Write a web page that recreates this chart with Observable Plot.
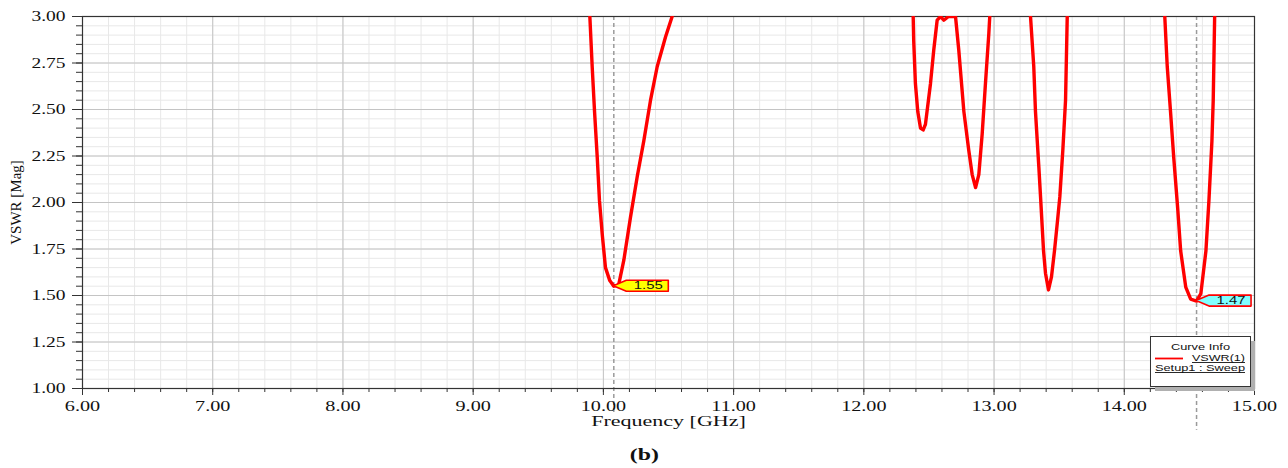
<!DOCTYPE html>
<html>
<head>
<meta charset="utf-8">
<script src="https://cdn.jsdelivr.net/npm/d3@7"></script>
<script src="https://cdn.jsdelivr.net/npm/@observablehq/plot@0.6"></script>
<style>
  html, body { margin: 0; padding: 0; background: #fff; }
  #wrap { position: relative; width: 1288px; height: 468px; }
  #caption { position: absolute; left: 0; top: 440px; width: 1288px; height: 30px; line-height: 30px;
    text-align: center; font-family: "Liberation Serif", serif; font-weight: bold; font-size: 17px; color: #111; }
  #caption span { display: inline-block; transform: scaleX(1.4); }
  #legend { position: absolute; left: 1148px; top: 334px; }
</style>
</head>
<body>
<div id="wrap">
  <div id="chart"></div>
  <svg id="legend" width="112" height="60"></svg>
  <div id="caption"><span>(b)</span></div>
</div>
<script>
// ---- data ----
const seg1F = [9.896, 9.914, 9.932, 9.953, 9.970, 9.991, 10.016, 10.049, 10.080, 10.118, 10.157, 10.208, 10.260, 10.310, 10.362, 10.413, 10.477, 10.528];
const seg1V = [3.00, 2.73, 2.49, 2.24, 2.01, 1.83, 1.65, 1.58, 1.55, 1.56, 1.69, 1.92, 2.14, 2.33, 2.55, 2.73, 2.89, 3.00];

const seg2F = [12.379, 12.383, 12.396, 12.414, 12.435, 12.456, 12.473, 12.512, 12.537, 12.563, 12.589, 12.614, 12.650, 12.704, 12.729, 12.768, 12.806, 12.832, 12.858, 12.883, 12.909, 12.934, 12.960, 12.967];
const seg2V = [3.00, 2.87, 2.64, 2.49, 2.40, 2.39, 2.42, 2.64, 2.82, 2.98, 3.00, 2.98, 3.00, 3.00, 2.82, 2.49, 2.28, 2.15, 2.08, 2.15, 2.37, 2.64, 2.91, 3.00];

const seg3F = [13.280, 13.305, 13.318, 13.344, 13.357, 13.380, 13.395, 13.418, 13.441, 13.464, 13.487, 13.505, 13.528, 13.549, 13.562];
const seg3V = [3.00, 2.73, 2.49, 2.19, 2.03, 1.74, 1.62, 1.53, 1.60, 1.74, 1.90, 2.03, 2.28, 2.55, 3.00];

const seg4F = [14.311, 14.330, 14.355, 14.380, 14.410, 14.433, 14.472, 14.510, 14.555, 14.588, 14.627, 14.650, 14.673, 14.683, 14.694];
const seg4V = [3.00, 2.73, 2.49, 2.24, 1.97, 1.74, 1.545, 1.48, 1.47, 1.51, 1.74, 2.01, 2.33, 2.55, 3.00];

const markerF = [10.08, 14.555];
const markerV = [1.55, 1.47];
const markerLabels = ["1.55", "1.47"];
const markerFills = ["#ffff00", "#80ffff"];

const xTicks = [6, 7, 8, 9, 10, 11, 12, 13, 14, 15];
const xTickLabels = ["6.00", "7.00", "8.00", "9.00", "10.00", "11.00", "12.00", "13.00", "14.00", "15.00"];
const yTicks = [1.00, 1.25, 1.50, 1.75, 2.00, 2.25, 2.50, 2.75, 3.00];
const yTickLabels = ["1.00", "1.25", "1.50", "1.75", "2.00", "2.25", "2.50", "2.75", "3.00"];

const legendTitle = "Curve Info";
const legendSeries = "VSWR(1)";
const legendSetup = "Setup1 : Sweep";

// ---- build tables ----
const segs = [[seg1F, seg1V], [seg2F, seg2V], [seg3F, seg3V], [seg4F, seg4V]];
const curve = segs.flatMap(([F, V], s) => F.map((f, i) => ({f, v: V[i], seg: s})));
const markers = markerF.map((f, i) => ({f, v: markerV[i], label: markerLabels[i], fill: markerFills[i]}));
const minorX = d3.range(6, 15.0001, 0.2).map(d => +d.toFixed(2));
const minorY = d3.range(1, 3.0001, 0.05).map(d => +d.toFixed(2));
const fmtX = d => xTickLabels[xTicks.indexOf(d)];
const fmtY = d => yTickLabels[yTicks.indexOf(d)];

// marker flag (pointer + box + value), positioned through the plot's scales
function flags(data) {
  return (index, scales) => {
    const g = d3.create("svg:g");
    for (const d of data) {
      const px = scales.x(d.f), py = scales.y(d.v);
      const pts = [[px, py], [px + 13, py - 5.5], [px + 55, py - 5.5], [px + 55, py + 5.5], [px + 13, py + 5.5]];
      g.append("polygon").attr("points", pts.map(p => p.join(",")).join(" "))
        .attr("fill", d.fill).attr("stroke", "#ff0000").attr("stroke-width", 1.6).attr("stroke-linejoin", "round");
      g.append("text").attr("x", px + 35).attr("y", py + 0.5)
        .attr("text-anchor", "middle").attr("dominant-baseline", "middle")
        .attr("font-family", "'Liberation Sans', Arial, sans-serif").attr("font-size", 10.5).attr("fill", "#111")
        .attr("textLength", 29).attr("lengthAdjust", "spacingAndGlyphs").text(d.label);
    }
    return g.node();
  };
}

const chart = Plot.plot({
  width: 1288,
  height: 436,
  marginTop: 16,
  marginLeft: 82,
  marginRight: 34,
  marginBottom: 48,
  x: {domain: [6, 15]},
  y: {domain: [1, 3]},
  style: {fontFamily: "'Liberation Serif', serif", fontSize: "15px", color: "#111", background: "#fff"},
  marks: [
    Plot.gridX(minorX, {stroke: "#e8e8e8", strokeOpacity: 1}),
    Plot.gridY(minorY, {stroke: "#e8e8e8", strokeOpacity: 1}),
    Plot.gridX(xTicks, {stroke: "#c4c4c4", strokeOpacity: 1}),
    Plot.gridY(yTicks, {stroke: "#c4c4c4", strokeOpacity: 1}),
    Plot.ruleX([markers[0]], {x: "f", y1: 3, y2: 0.865, stroke: "#9a9a9a", strokeWidth: 1.5, strokeDasharray: "4,3", clip: false}),
    Plot.ruleX([markers[1]], {x: "f", y1: 3, y2: 0.775, stroke: "#9a9a9a", strokeWidth: 1.5, strokeDasharray: "4,3", clip: false}),
    Plot.frame({stroke: "#333", strokeWidth: 1.2}),
    Plot.axisX(minorX, {tickSize: 4, text: null, label: null, stroke: "#333"}),
    Plot.axisX(xTicks, {tickSize: 7, tickPadding: 4, tickFormat: fmtX, stroke: "#333",
      label: "Frequency [GHz]", labelAnchor: "center", labelArrow: "none", labelOffset: 37, fontSize: 15.5}),
    Plot.axisY(minorY, {tickSize: 6, text: null, label: null, stroke: "#333"}),
    Plot.axisY(yTicks, {tickSize: 10, tickPadding: 7, tickFormat: fmtY, stroke: "#333",
      label: "VSWR [Mag]", labelAnchor: "center", labelArrow: "none", labelOffset: 72, fontSize: 15}),
    Plot.line(curve, {x: "f", y: "v", z: "seg", stroke: "#ff0000", strokeWidth: 3.4, clip: true}),
    flags(markers)
  ]
});
document.getElementById("chart").appendChild(chart);

// the reference's horizontal texts are drawn wider than the installed serif: stretch them
function stretch(selector, factor) {
  chart.querySelectorAll(selector).forEach(t => {
    const len = t.getComputedTextLength();
    if (len > 0) {
      t.setAttribute("textLength", (len * factor).toFixed(1));
      t.setAttribute("lengthAdjust", "spacingAndGlyphs");
    }
  });
}
stretch('g[aria-label="x-axis tick label"] text', 1.3);
stretch('g[aria-label="y-axis tick label"] text', 1.3);
stretch('g[aria-label="x-axis label"] text', 1.42);

// curve-info legend
const lg = d3.select("#legend");
lg.append("rect").attr("x", 7).attr("y", 7).attr("width", 100).attr("height", 50).attr("fill", "#b0b0b0");
lg.append("rect").attr("x", 2.5).attr("y", 2.5).attr("width", 100).attr("height", 50)
  .attr("fill", "#fff").attr("stroke", "#333").attr("stroke-width", 1);
const lfont = "'Liberation Sans', Arial, sans-serif";
lg.append("text").attr("x", 52.5).attr("y", 13).attr("text-anchor", "middle").attr("dominant-baseline", "middle")
  .attr("font-family", lfont).attr("font-size", 9.5).attr("fill", "#111")
  .attr("textLength", 59).attr("lengthAdjust", "spacingAndGlyphs").text(legendTitle);
lg.append("line").attr("x1", 7).attr("x2", 35).attr("y1", 24.5).attr("y2", 24.5).attr("stroke", "#ff0000").attr("stroke-width", 1.8);
lg.append("text").attr("x", 97).attr("y", 24.5).attr("text-anchor", "end").attr("dominant-baseline", "middle")
  .attr("font-family", lfont).attr("font-size", 9.5).attr("fill", "#111")
  .attr("textLength", 53).attr("lengthAdjust", "spacingAndGlyphs").text(legendSeries);
lg.append("line").attr("x1", 44).attr("x2", 97).attr("y1", 28.5).attr("y2", 28.5).attr("stroke", "#111").attr("stroke-width", 0.9);
lg.append("text").attr("x", 7).attr("y", 34.5).attr("dominant-baseline", "middle")
  .attr("font-family", lfont).attr("font-size", 9.5).attr("fill", "#111")
  .attr("textLength", 90).attr("lengthAdjust", "spacingAndGlyphs").text(legendSetup);
lg.append("line").attr("x1", 7).attr("x2", 97).attr("y1", 38.5).attr("y2", 38.5).attr("stroke", "#111").attr("stroke-width", 0.9);
</script>
</body>
</html>
